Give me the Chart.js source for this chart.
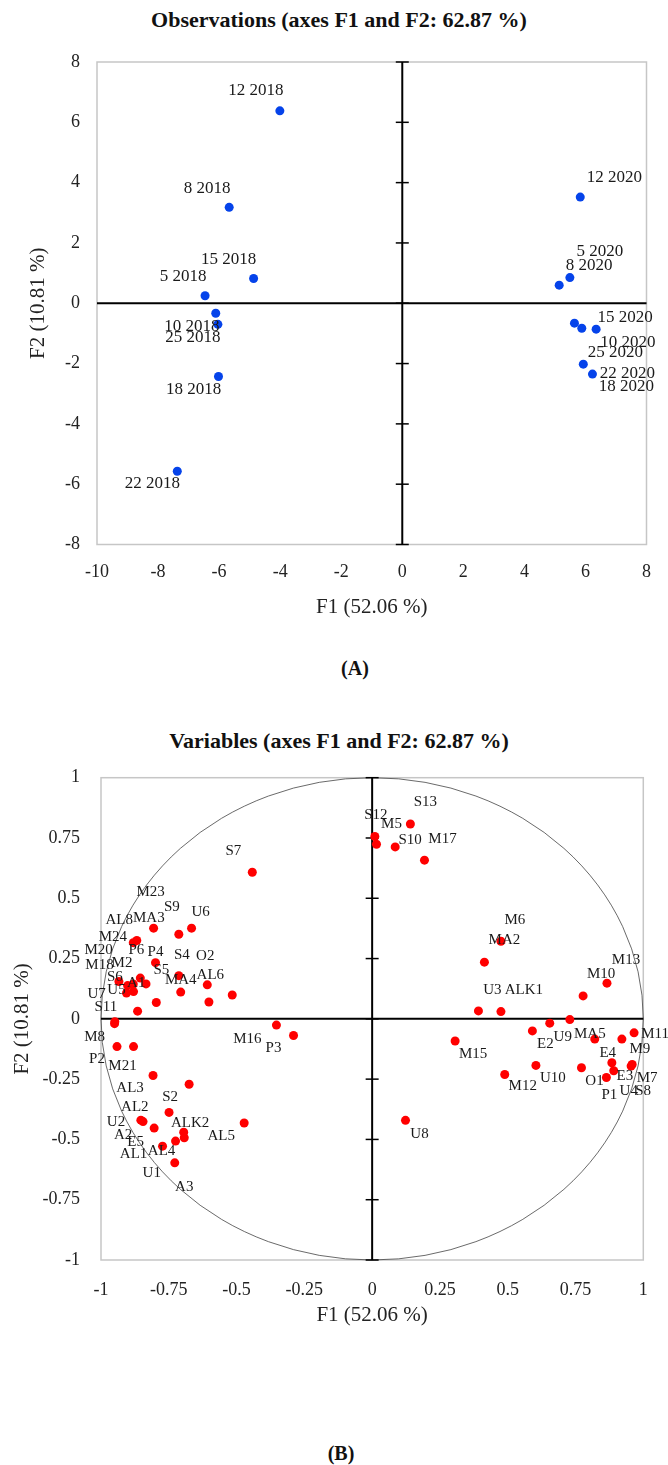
<!DOCTYPE html>
<html>
<head>
<meta charset="utf-8">
<script src="https://cdn.jsdelivr.net/npm/chart.js@4.4.1/dist/chart.umd.min.js"></script>
<style>
  body { margin: 0; background: #fff; }
  #page { position: relative; width: 668px; height: 1465px; overflow: hidden; font-family: "Liberation Serif", serif; color: #111; }
  canvas { position: absolute; left: 0; }
  .title { position: absolute; left: 0; width: 678px; text-align: center; font-weight: bold; font-size: 22px; line-height: 22px; }
  .caption { position: absolute; width: 80px; text-align: center; font-weight: bold; font-size: 20px; line-height: 20px; }
</style>
</head>
<body>
<div id="page">
  <div class="title" style="top:9px">Observations (axes F1 and F2: 62.87 %)</div>
  <canvas id="obsChart" width="668" height="640" style="top:0"></canvas>
  <div class="caption" style="left:315px; top:658px">(A)</div>

  <div class="title" style="top:730px">Variables (axes F1 and F2: 62.87 %)</div>
  <canvas id="varChart" width="668" height="620" style="top:720px"></canvas>
  <div class="caption" style="left:301px; top:1443px">(B)</div>
</div>

<script>
// Observations (sampling day + year)
const obsNames = ['12 2018', '8 2018', '15 2018', '5 2018', '10 2018', '25 2018', '18 2018', '22 2018',
                  '12 2020', '5 2020', '8 2020', '15 2020', '10 2020', '25 2020', '22 2020', '18 2020'];
const obsF1 = [-4.01, -5.67, -4.87, -6.46, -6.11, -6.04, -6.02, -7.37,
               5.83, 5.49, 5.14, 6.35, 5.88, 5.93, 6.23, 5.64];
const obsF2 = [6.38, 3.18, 0.82, 0.25, -0.33, -0.70, -2.43, -5.57,
               3.52, 0.85, 0.60, -0.86, -0.83, -2.02, -2.35, -0.66];

// Variables (correlation circle)
const varNames = ['S7', 'M23', 'S9', 'U6', 'AL8', 'MA3', 'P4', 'S4', 'AL6', 'O2', 'MA4', 'S5', 'P6', 'M2',
                  'A1', 'S6', 'U5', 'U7', 'M18', 'M20', 'M24',
                  'S11', 'M8', 'P2', 'M21', 'M16', 'P3', 'AL3', 'S2', 'AL2', 'U2', 'ALK2', 'A2', 'E5',
                  'AL5', 'AL1', 'AL4', 'U1', 'A3',
                  'S12', 'M5', 'S13', 'S10', 'M17', 'M6', 'MA2', 'M13', 'M10', 'U3', 'ALK1',
                  'MA5', 'U9', 'E2', 'M15', 'E4', 'M9', 'M11', 'E3', 'M7', 'O1', 'U10', 'M12', 'P1',
                  'U4', 'S8', 'U8'];
const varF1 = [-0.442, -0.806, -0.713, -0.666, -0.881, -0.868, -0.799, -0.713, -0.608, -0.516, -0.706, -0.796, -0.855, -0.834,
               -0.881, -0.934, -0.906, -0.902, -0.880, -0.865, -0.602,
               -0.949, -0.950, -0.941, -0.880, -0.353, -0.290, -0.808, -0.675, -0.853, -0.845, -0.749, -0.804, -0.695,
               -0.472, -0.773, -0.725, -0.728, -0.693,
               0.010, 0.016, 0.141, 0.085, 0.193, 0.475, 0.414, 0.866, 0.778, 0.392, 0.475,
               0.729, 0.655, 0.591, 0.306, 0.821, 0.921, 0.966, 0.884, 0.959, 0.772, 0.604, 0.489, 0.864,
               0.891, 0.955, 0.123];
const varF2 = [0.608, 0.376, 0.351, 0.376, 0.316, 0.325, 0.233, 0.179, 0.141, 0.099, 0.111, 0.068, 0.169, 0.145,
               0.144, 0.155, 0.107, 0.138, 0.113, 0.032, 0.070,
               -0.012, -0.020, -0.115, -0.115, -0.026, -0.069, -0.235, -0.271, -0.420, -0.426, -0.388, -0.453, -0.470,
               -0.432, -0.528, -0.507, -0.597, -0.493,
               0.756, 0.724, 0.808, 0.713, 0.658, 0.322, 0.235, 0.148, 0.095, 0.033, 0.030,
               -0.003, -0.018, -0.050, -0.092, -0.084, -0.084, -0.058, -0.182, -0.189, -0.203, -0.193, -0.231, -0.243,
               -0.215, -0.196, -0.421];

// label offsets from each point (px), like the XLSTAT layout
const obsLabelDx = [-24, -22, -25, -22, -24, -25, -25, -25, 34, 30, 30, 29, 46, 32, 35, 52];
const obsLabelDy = [-20, -19, -19, -19, 13, 13, 13, 12, -20, -26, -20, -12, 14, -12, -1, 63];
const varLabelDx = [-19, -3, -7, 9, -14, 12, 0, 3, 3, -27, 0, 5, -4, -24,
                    3, -4, -10, -31, -34, -39, -96,
                    -9, -20, -20, -11, -29, -20, -23, -19, -6, -27, 21, -31, -48,
                    -23, -29, -14, -23, 0,
                    1, 15, 15, 15, 18, 14, 20, 19, 18, 14, 23,
                    20, 13, 13, 18, 13, 18, 21, 13, 15, 13, 17, 18, 3,
                    15, 12, 14];
const varLabelDy = [-21, -36, -27, -16, -23, -22, -11, -21, -10, -39, -12, -32, -28, -21,
                    -1, -4, -3, 8, -27, -61, -65,
                    -15, 13, 12, 19, 14, 13, 13, 13, -13, 0, 11, 7, 10,
                    13, 8, 10, 10, 49,
                    -21, -20, -22, -7, -21, -21, -22, -23, -22, -21, -22,
                    14, 14, 13, 13, 14, 10, 1, 13, 14, 13, 13, 12, 18,
                    20, 25, 14];

const serif = '"Liberation Serif", serif';

// frame, axes through the origin, ticks on the vertical axis and the unit circle
const pcaAxes = {
    id: 'pcaAxes',
    beforeDatasetsDraw(chart, args, opts) {
        const { ctx, chartArea: a, scales: { x, y } } = chart;
        const x0 = x.getPixelForValue(0);
        const y0 = y.getPixelForValue(0);
        const line = (x1, y1, x2, y2) => { ctx.beginPath(); ctx.moveTo(x1, y1); ctx.lineTo(x2, y2); ctx.stroke(); };
        ctx.save();
        ctx.strokeStyle = '#c6c6c6';
        ctx.lineWidth = 1.5;
        ctx.strokeRect(a.left, a.top, a.right - a.left, a.bottom - a.top);
        if (opts.circle) {
            ctx.beginPath();
            ctx.ellipse(x0, y0, x.getPixelForValue(1) - x0, y0 - y.getPixelForValue(1), 0, 0, Math.PI * 2);
            ctx.strokeStyle = '#444';
            ctx.lineWidth = 0.8;
            ctx.stroke();
        }
        ctx.strokeStyle = '#000';
        ctx.lineWidth = 2;
        line(a.left, y0, a.right, y0);
        line(x0, a.top, x0, a.bottom);
        ctx.lineWidth = 1.5;
        y.ticks.forEach(t => {
            const py = y.getPixelForValue(t.value);
            line(x0 - 6.5, py, x0 + 6.5, py);
        });
        ctx.restore();
    }
};

// point names next to the markers
const pointNames = {
    id: 'pointNames',
    afterDatasetsDraw(chart, args, opts) {
        const { ctx } = chart;
        const meta = chart.getDatasetMeta(0);
        ctx.save();
        ctx.font = opts.font;
        ctx.fillStyle = '#1a1a1a';
        ctx.textAlign = 'center';
        ctx.textBaseline = 'middle';
        meta.data.forEach((pt, i) => {
            ctx.fillText(opts.names[i], pt.x + opts.dx[i], pt.y + opts.dy[i]);
        });
        ctx.restore();
    }
};

function makeScale(min, max, step, title, s) {
    return {
        type: 'linear',
        min: min,
        max: max,
        grid: { display: false, drawTicks: false },
        border: { display: false },
        ticks: {
            stepSize: step,
            autoSkip: false,
            maxRotation: 0,
            padding: s.tickPad,
            color: '#222',
            font: { family: serif, size: 18 },
            callback: value => String(value) // keep -0.75, 0.25 ... as printed
        },
        title: { display: true, text: title, color: '#222', font: { family: serif, size: 21 }, padding: s.titlePad },
        afterFit: s.fit
    };
}

function renderObservations() {
    const ctx = document.getElementById('obsChart').getContext('2d');
    const points = obsF1.map((v, i) => ({ x: v, y: obsF2[i] }));
    new Chart(ctx, {
        type: 'scatter',
        data: {
            datasets: [{
                data: points,
                backgroundColor: '#0543ea',
                borderWidth: 0,
                pointRadius: 4.5
            }]
        },
        options: {
            responsive: false,
            animation: false,
            layout: { padding: { top: 62, right: 15.5, bottom: 0, left: 0 } },
            scales: {
                x: makeScale(-10, 8, 2, 'F1 (52.06 %)', { tickPad: 17, titlePad: { top: 0, bottom: 19.8 }, fit: s => { s.height = 95.5; } }),
                y: makeScale(-8, 8, 2, 'F2 (10.81 %)', { tickPad: 17, titlePad: { top: 25.4, bottom: 0 }, fit: s => { s.width = 97; } })
            },
            plugins: {
                legend: { display: false },
                tooltip: { enabled: false },
                pcaAxes: { circle: false },
                pointNames: { names: obsNames, dx: obsLabelDx, dy: obsLabelDy, font: '17px ' + serif }
            }
        },
        plugins: [pcaAxes, pointNames]
    });
}

function renderVariables() {
    const ctx = document.getElementById('varChart').getContext('2d');
    const points = varF1.map((v, i) => ({ x: v, y: varF2[i] }));
    new Chart(ctx, {
        type: 'scatter',
        data: {
            datasets: [{
                data: points,
                backgroundColor: '#ff0000',
                borderWidth: 0,
                pointRadius: 4.5
            }]
        },
        options: {
            responsive: false,
            animation: false,
            layout: { padding: { top: 57.7, right: 24.7, bottom: 0, left: 0 } },
            scales: {
                x: makeScale(-1, 1, 0.25, 'F1 (52.06 %)', { tickPad: 19, titlePad: { top: 0, bottom: 11.7 }, fit: s => { s.height = 80; } }),
                y: makeScale(-1, 1, 0.25, 'F2 (10.81 %)', { tickPad: 21, titlePad: { top: 9.4, bottom: 0 }, fit: s => { s.width = 101; } })
            },
            plugins: {
                legend: { display: false },
                tooltip: { enabled: false },
                pcaAxes: { circle: true },
                pointNames: { names: varNames, dx: varLabelDx, dy: varLabelDy, font: '15px ' + serif }
            }
        },
        plugins: [pcaAxes, pointNames]
    });
}

window.onload = function() {
    renderObservations();
    renderVariables();
};
</script>
</body>
</html>
